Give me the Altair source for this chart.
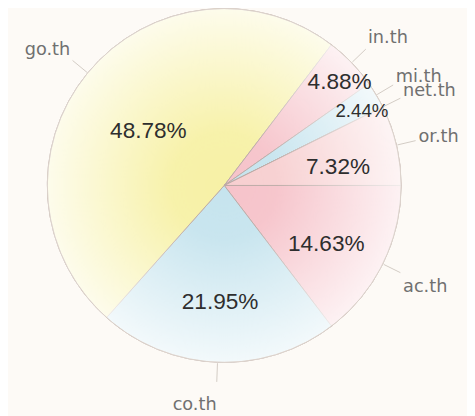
import math
import altair as alt
import pandas as pd

# ---- data ----
names = ["ac.th", "co.th", "go.th", "in.th", "mi.th", "net.th", "or.th"]
shares = [14.63, 21.95, 48.78, 4.88, 2.44, 0.0, 7.32]
pct_labels = ["14.63%", "21.95%", "48.78%", "4.88%", "2.44%", "", "7.32%"]
palette = ["#f6c3ca", "#c6e4ee", "#f7f1a6", "#f6c3ca", "#c6e4ee", "#f7f1a6", "#f7cfd0"]

df = pd.DataFrame({"name": names, "value": shares, "pct": pct_labels,
                   "order": list(range(len(names)))})

CX, CY, R = 220, 177, 180
START = math.pi / 2

base = (
    alt.Chart(df)
    .transform_joinaggregate(total="sum(value)")
    .transform_window(cum="sum(value)", sort=[alt.SortField("order")], frame=[None, 0])
    .transform_calculate(
        a=f"PI/2 + 2*PI*(datum.cum - datum.value/2)/datum.total",
        half="PI*datum.value/datum.total",
    )
    .transform_calculate(
        s="sin(datum.a)",
        c="cos(datum.a)",
        cen=f"datum.half > 0 ? 2*{R}*sin(datum.half)/(3*datum.half) : {R}",
    )
    .transform_calculate(
        x0=f"{CX} + {R + 1}*datum.s",
        y0=f"{CY} - {R + 1}*datum.c",
        x1=f"{CX} + {R + 20}*datum.s",
        y1=f"{CY} - {R + 20}*datum.c",
        lx=f"{CX} + 203*datum.s",
        ly=f"{CY} - 216*datum.c + (datum.c < -0.2 ? 8 : 0)",
        pr="datum.value < 6 ? 163 : max(100, datum.cen)",
    )
    .transform_calculate(
        px=f"{CX} + datum.pr*datum.s",
        py=f"{CY} - datum.pr*datum.c + 8",
    )
)

slices = alt.Chart(df).mark_arc(radius=R, stroke="#bcaaa6", strokeWidth=1).encode(
    theta=alt.Theta("value:Q", stack=True,
                    scale=alt.Scale(range=[START, START + 2 * math.pi])),
    color=alt.Color("name:N", scale=alt.Scale(domain=names, range=palette), legend=None),
    order=alt.Order("order:Q"),
    x=alt.value(CX),
    y=alt.value(CY),
)

overlay = alt.Chart(pd.DataFrame({"v": [1]})).mark_arc(
    radius=R,
    fill=alt.RadialGradient(
        gradient="radial",
        stops=[
            alt.GradientStop(offset=0, color="rgba(255,255,255,0)"),
            alt.GradientStop(offset=0.3, color="rgba(255,255,255,0.05)"),
            alt.GradientStop(offset=1, color="rgba(255,255,255,0.78)"),
        ],
        x1=0.5, y1=0.5, r1=0, x2=0.5, y2=0.5, r2=0.5,
    ),
    stroke="#dcd3cc",
    strokeWidth=1,
).encode(theta=alt.value(0), theta2=alt.value(2 * math.pi),
         x=alt.value(CX), y=alt.value(CY))

leaders = base.mark_rule(color="#d2cbc4", strokeWidth=1).encode(
    x=alt.X("x0:Q", scale=None), y=alt.Y("y0:Q", scale=None),
    x2="x1:Q", y2="y1:Q",
)

label_font = dict(font="DejaVu Sans", fontSize=18, color="#707070", baseline="middle")
right_labels = base.transform_filter("datum.s >= 0").mark_text(align="left", **label_font).encode(
    x=alt.X("lx:Q", scale=None), y=alt.Y("ly:Q", scale=None), text="name:N")
left_labels = base.transform_filter("datum.s < 0").mark_text(align="right", **label_font).encode(
    x=alt.X("lx:Q", scale=None), y=alt.Y("ly:Q", scale=None), text="name:N")

pcts = base.transform_filter("datum.value > 0").mark_text(
    font="Liberation Sans", color="#2e2e2e", align="center", baseline="middle"
).encode(
    x=alt.X("px:Q", scale=None), y=alt.Y("py:Q", scale=None), text="pct:N",
    size=alt.condition("datum.value < 3", alt.value(19), alt.value(23)),
)

chart = alt.layer(slices, overlay, leaders, right_labels, left_labels, pcts).properties(
    width=467, height=408, autosize="none", padding=0
).configure(background="#fdfaf6").configure_view(stroke=None)

chart.save("out.html", embed_options={"renderer": "svg", "actions": False})
